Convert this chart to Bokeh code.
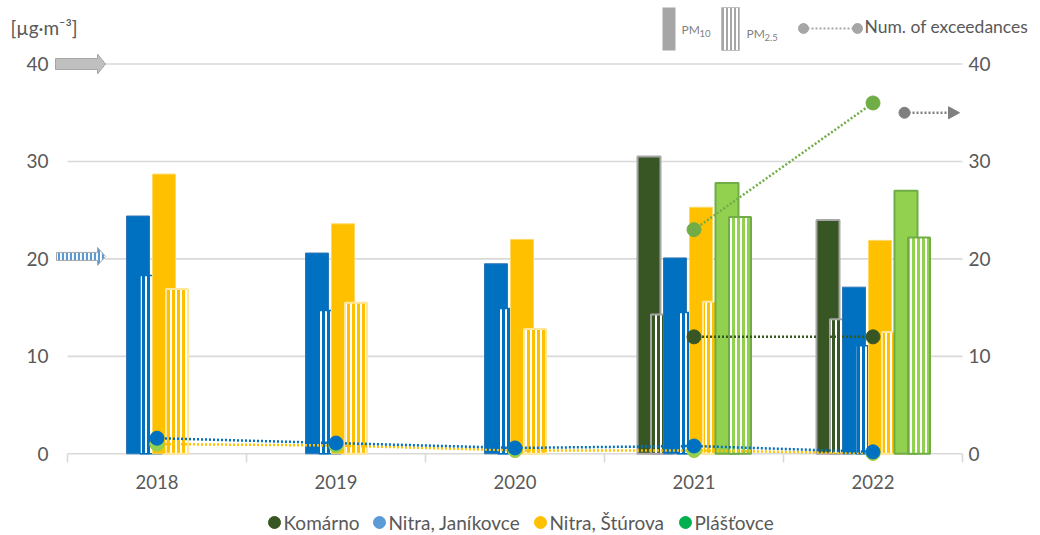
import math
from bokeh.plotting import figure
from bokeh.models import Range1d, LinearAxis, FixedTicker
from bokeh.core.properties import value
from bokeh.embed import file_html
from bokeh.resources import INLINE

nan = float("nan")

# ---------------- data ----------------
years = ["2018", "2019", "2020", "2021", "2022"]
stations = ["Komárno", "Nitra, Janíkovce", "Nitra, Štúrova", "Plášťovce"]

komarno_pm10 = [nan, nan, nan, 30.5, 24.0]
komarno_pm25 = [nan, nan, nan, 14.3, 13.8]
janikovce_pm10 = [24.4, 20.6, 19.5, 20.1, 17.1]
janikovce_pm25 = [18.3, 14.7, 14.9, 14.5, 11.1]
sturova_pm10 = [28.7, 23.6, 22.0, 25.3, 21.9]
sturova_pm25 = [16.9, 15.5, 12.8, 15.6, 12.5]
plastovce_pm10 = [nan, nan, nan, 27.8, 27.0]
plastovce_pm25 = [nan, nan, nan, 24.3, 22.2]

komarno_exc = [nan, nan, nan, 12, 12]
janikovce_exc = [1.6, 1.1, 0.6, 0.8, 0.2]
sturova_exc = [1.0, 0.85, 0.35, 0.35, 0.05]
plastovce_exc = [nan, nan, nan, 23, 36]
plastovce_exc_marker = [1.0, 0.85, 0.35, 0.35, 0.05]

y_ticks = [0, 10, 20, 30, 40]
pm10_limit = 40
pm25_limit = 20
exc_limit = 35

# ---------------- layout helpers (canvas pixels) ----------------
W, H = 1040, 535
X0, SX = 67.0, 179.0
Y0, SY = 453.3, 9.745


def rx(px):
    return (px - X0) / SX


def ry(py):
    return (Y0 - py) / SY


def dxp(px):
    return px / SX


def dyp(px):
    return px / SY


FONT = "Lato"
TXT = "#595959"
GRID = "#D9D9D9"
DASH = "2 2"

p = figure(width=W, height=H,
           x_range=Range1d(rx(0), rx(W)), y_range=Range1d(ry(H), ry(0)),
           output_backend="svg", toolbar_location=None, x_axis_location=None,
           min_border_left=0, min_border_right=0, min_border_top=0, min_border_bottom=0)
p.outline_line_color = None
p.grid.visible = False

yl = p.yaxis[0]
yr = LinearAxis()
p.add_layout(yr, "right")
yl.fixed_location = rx(55)
yr.fixed_location = rx(962)
for ax, so in ((yl, 7), (yr, 6)):
    ax.ticker = FixedTicker(ticks=y_ticks, minor_ticks=[])
    ax.axis_line_color = None
    ax.major_tick_line_color = None
    ax.minor_tick_line_color = None
    ax.major_tick_out = 0
    ax.major_tick_in = 0
    ax.major_label_standoff = so
    ax.major_label_text_font = FONT
    ax.major_label_text_font_size = "19px"
    ax.major_label_text_color = TXT

n = len(years)
# grid lines and category axis
p.segment(x0=[0] * len(y_ticks), x1=[n] * len(y_ticks), y0=y_ticks, y1=y_ticks,
          line_color=GRID, line_width=1.6)
p.segment(x0=list(range(n + 1)), x1=list(range(n + 1)), y0=[0] * (n + 1),
          y1=[ry(462)] * (n + 1), line_color=GRID, line_width=1.6)
p.text(x=[i + 0.5 for i in range(n)], y=[ry(481)] * n, text=years,
       text_font=value(FONT), text_font_size="18.5px", text_color=TXT,
       text_align="center", text_baseline="middle")

# ---------------- bars ----------------
pm10 = [komarno_pm10, janikovce_pm10, sturova_pm10, plastovce_pm10]
pm25 = [komarno_pm25, janikovce_pm25, sturova_pm25, plastovce_pm25]
fill10 = ["#375623", "#0070C0", "#FFC000", "#92D050"]
line10 = ["#A6A6A6", "#2E75B6", "#FFD966", "#70AD47"]
lw10 = [2, 1, 1, 2]
hatch25 = ["#375623", "#0070C0", "#FFC000", "#92D050"]
line25 = ["#A6A6A6", "#0070C0", "#FFE699", "#70AD47"]
lw25 = [2, 1.5, 2, 2]
off10_px = [-45, -19, 7, 33]
off25_px = 13

for j in range(len(stations)):
    pts = [(i + 0.5 + dxp(off10_px[j]), v) for i, v in enumerate(pm10[j]) if not math.isnan(v)]
    p.vbar(x=[a for a, b in pts], top=[b for a, b in pts], bottom=0, width=dxp(23),
           fill_color=fill10[j], line_color=line10[j], line_width=lw10[j])
    pts = [(i + 0.5 + dxp(off10_px[j] + off25_px), v) for i, v in enumerate(pm25[j]) if not math.isnan(v)]
    p.vbar(x=[a for a, b in pts], top=[b for a, b in pts], bottom=0, width=dxp(22),
           fill_color="white", hatch_pattern="|", hatch_color=hatch25[j],
           hatch_scale=5, hatch_weight=3, line_color=line25[j], line_width=lw25[j])

# ---------------- exceedances ----------------
xc = [i + 0.5 for i in range(n)]
p.line(x=xc, y=sturova_exc, line_color="#FFC000", line_width=2.5, line_dash=DASH)
p.line(x=xc, y=janikovce_exc, line_color="#0070C0", line_width=2.5, line_dash=DASH)
p.line(x=xc, y=komarno_exc, line_color="#375623", line_width=2.5, line_dash=DASH)
p.line(x=xc, y=plastovce_exc, line_color="#70AD47", line_width=2.5, line_dash=DASH)


def dots(vals, color):
    pts = [(x, v) for x, v in zip(xc, vals) if not math.isnan(v)]
    p.scatter(x=[a for a, b in pts], y=[b for a, b in pts], size=14, marker="circle",
              fill_color=color, line_color=color)


dots(sturova_exc, "#FFC000")
dots(plastovce_exc_marker, "#92D050")
dots(janikovce_exc, "#0070C0")
dots(komarno_exc, "#375623")
dots(plastovce_exc, "#70AD47")

# ---------------- limit arrows ----------------
ax_ = [rx(55), rx(97), rx(97), rx(105), rx(97), rx(97), rx(55)]
ay_ = [pm10_limit + dyp(v) for v in (5.5, 5.5, 10, 0, -10, -5.5, -5.5)]
p.patch(x=ax_, y=ay_, fill_color="#BFBFBF", line_color="#A6A6A6", line_width=1)

bx_ = [rx(56), rx(97), rx(97), rx(105), rx(97), rx(97), rx(56)]
by_ = [pm25_limit + dyp(v) for v in (6.5, 6.5, 11.5, 2.5, -6.5, -1.5, -1.5)]
p.patch(x=bx_, y=by_, fill_color="white", hatch_pattern="|", hatch_color="#5B9BD5",
        hatch_scale=4, hatch_weight=2.2, line_color="#A6A6A6", line_width=1)

p.line(x=[rx(904), rx(949)], y=[exc_limit, exc_limit], line_color="#7F7F7F",
       line_width=2.5, line_dash=DASH)
p.scatter(x=[rx(904)], y=[exc_limit], size=11, marker="circle",
          fill_color="#7F7F7F", line_color="#7F7F7F")
p.patch(x=[rx(948), rx(959), rx(948)], y=[exc_limit + dyp(6), exc_limit, exc_limit - dyp(6)],
        fill_color="#7F7F7F", line_color="#7F7F7F")

# ---------------- top legend ----------------
p.quad(left=[rx(662)], right=[rx(675)], bottom=[ry(50)], top=[ry(7)],
       fill_color="#A6A6A6", line_color=None)
p.text(x=[rx(681)], y=[ry(29)], text=["PM"], text_font=value(FONT), text_font_size="12px",
       text_color="#7F7F7F", text_baseline="middle")
p.text(x=[rx(699)], y=[ry(33)], text=["10"], text_font=value(FONT), text_font_size="9.5px",
       text_color="#7F7F7F", text_baseline="middle")
p.quad(left=[rx(721)], right=[rx(739)], bottom=[ry(50)], top=[ry(7)],
       fill_color="white", hatch_pattern="|", hatch_color="#A6A6A6", hatch_scale=4,
       hatch_weight=2, line_color="#BFBFBF", line_width=1)
p.text(x=[rx(746)], y=[ry(33)], text=["PM"], text_font=value(FONT), text_font_size="12px",
       text_color="#7F7F7F", text_baseline="middle")
p.text(x=[rx(764)], y=[ry(37)], text=["2.5"], text_font=value(FONT), text_font_size="9.5px",
       text_color="#7F7F7F", text_baseline="middle")
p.line(x=[rx(803), rx(857)], y=[ry(28), ry(28)], line_color="#A6A6A6", line_width=2,
       line_dash=DASH)
p.scatter(x=[rx(803), rx(857)], y=[ry(28), ry(28)], size=10, marker="circle",
          fill_color="#A6A6A6", line_color="#A6A6A6")
p.text(x=[rx(864)], y=[ry(26)], text=["Num. of exceedances"], text_font=value(FONT),
       text_font_size="17.5px", text_color=TXT, text_baseline="middle")
p.text(x=[rx(10)], y=[ry(27)], text=["[µg·m⁻³]"], text_font=value(FONT),
       text_font_size="19px", text_color=TXT, text_baseline="middle")

# ---------------- bottom legend ----------------
leg_colors = ["#375623", "#5B9BD5", "#FFC000", "#00B050"]
leg_dot_px = [274, 379, 540, 685]
p.scatter(x=[rx(v) for v in leg_dot_px], y=[ry(522)] * 4, size=12, marker="circle",
          fill_color=leg_colors, line_color=leg_colors)
p.text(x=[rx(v + 9) for v in leg_dot_px], y=[ry(522)] * 4, text=stations,
       text_font=value(FONT), text_font_size="19px", text_color=TXT,
       text_baseline="middle")

open("out.html", "w").write(file_html(p, INLINE))
